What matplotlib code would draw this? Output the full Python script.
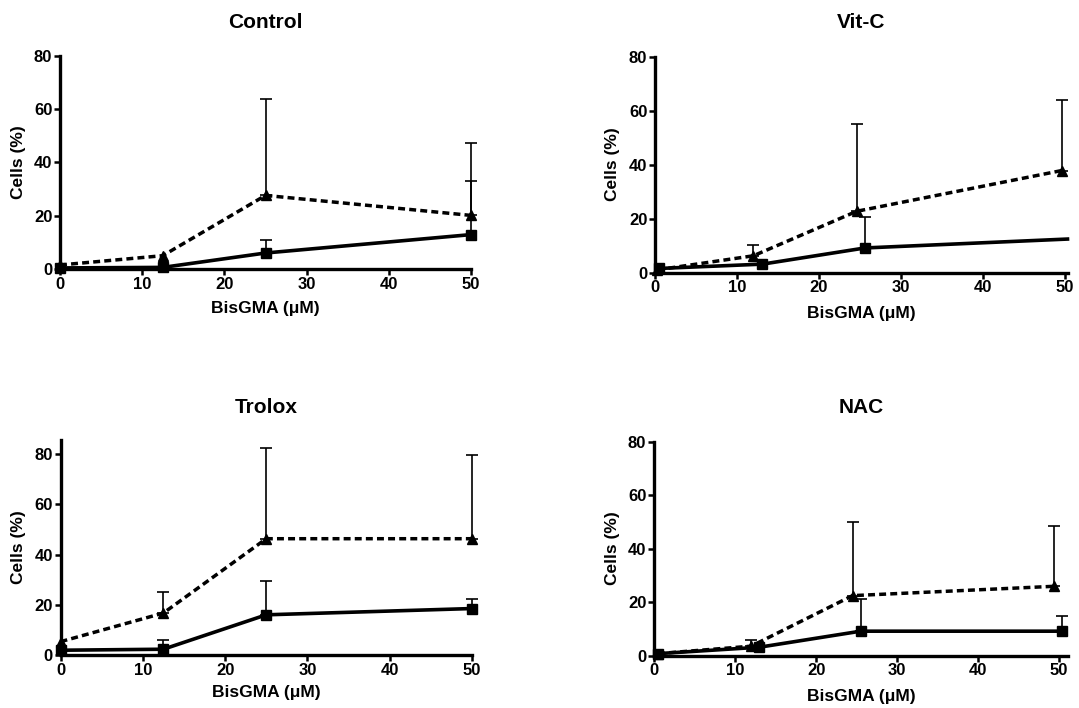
import numpy as np
import matplotlib
matplotlib.use("Agg")
import matplotlib.pyplot as plt

plt.rcParams['font.family'] = ['Liberation Sans', 'DejaVu Sans']
plt.rcParams['font.weight'] = 'bold'

W, H = 1079, 708

titles = ["Control", "Vit-C", "Trolox", "NAC"]
x_label = "BisGMA (\u03bcM)"
y_label = "Cells (%)"
x_ticks = [0, 10, 20, 30, 40, 50]
y_ticks = [0, 20, 40, 60, 80]

# Control
ctrl_tri_x = [0, 12.5, 25, 50]
ctrl_tri_y = [1.5, 5.0, 27.6, 20.1]
ctrl_tri_err = [0, 0, 36.2, 27.2]
ctrl_sq_x = [0, 12.5, 25, 50]
ctrl_sq_y = [0.4, 0.6, 6.0, 12.9]
ctrl_sq_err = [0, 0, 4.8, 20.2]

# Vit-C
vitc_tri_x = [0.3, 12.0, 24.6, 49.6]
vitc_tri_y = [1.0, 6.2, 22.7, 37.8]
vitc_tri_err = [0, 4.0, 32.5, 26.1]
vitc_sq_x = [0.5, 13.1, 25.6, 50.3]
vitc_sq_y = [1.5, 3.1, 9.1, 12.4]
vitc_sq_err = [0, 0, 11.4, 0]

# Trolox
trol_tri_x = [0, 12.5, 25, 50]
trol_tri_y = [5.3, 16.7, 46.3, 46.3]
trol_tri_err = [0, 8.4, 36.2, 33.2]
trol_sq_x = [0, 12.5, 25, 50]
trol_sq_y = [1.9, 2.3, 16.0, 18.5]
trol_sq_err = [0, 3.6, 13.3, 3.9]

# NAC
nac_tri_x = [0.5, 12.0, 24.5, 49.4]
nac_tri_y = [0.7, 3.5, 22.4, 25.9]
nac_tri_err = [0, 2.2, 27.5, 22.6]
nac_sq_x = [0.5, 13.0, 25.5, 50.4]
nac_sq_y = [0.7, 3.1, 9.1, 9.1]
nac_sq_err = [0, 0, 12.0, 5.6]

panels = [
    dict(tri=(ctrl_tri_x, ctrl_tri_y, ctrl_tri_err), sq=(ctrl_sq_x, ctrl_sq_y, ctrl_sq_err), sq_marks=[0, 1, 2, 3]),
    dict(tri=(vitc_tri_x, vitc_tri_y, vitc_tri_err), sq=(vitc_sq_x, vitc_sq_y, vitc_sq_err), sq_marks=[0, 1, 2]),
    dict(tri=(trol_tri_x, trol_tri_y, trol_tri_err), sq=(trol_sq_x, trol_sq_y, trol_sq_err), sq_marks=[0, 1, 2, 3]),
    dict(tri=(nac_tri_x, nac_tri_y, nac_tri_err), sq=(nac_sq_x, nac_sq_y, nac_sq_err), sq_marks=[0, 1, 2, 3]),
]

# layout in pixels: (x_px_lo, x_px_hi, xlim_hi, y_px_lo, y_px_hi, ylim_hi, title_y, ylabel_x, xlabel_y)
layout = [
    (60, 471, 50.0, 269, 55.7, 80.0, 22, 19, 309),
    (655, 1067.5, 50.3, 272.5, 56.7, 80.0, 23, 613, 313),
    (60.5, 472, 50.0, 655, 440, 85.6, 407, 19, 693),
    (654, 1067.7, 51.05, 655.5, 441.7, 80.0, 408, 613, 697),
]

fig = plt.figure(figsize=(W / 100, H / 100), dpi=100)

for i, (p, L) in enumerate(zip(panels, layout)):
    x0, x1, xhi, y0, y1, yhi, ty, ylx, xly = L
    ax = fig.add_axes([x0 / W, 1 - y0 / H, (x1 - x0) / W, (y0 - y1) / H])
    ax.set_xlim(0, xhi)
    ax.set_ylim(0, yhi)
    for s in ['top', 'right']:
        ax.spines[s].set_visible(False)
    for s in ['left', 'bottom']:
        ax.spines[s].set_linewidth(2.4)
    ax.set_xticks(x_ticks)
    ax.set_yticks(y_ticks)
    ax.tick_params(direction='out', length=4, width=1.8, labelsize=12, pad=1.5)
    for lab in ax.get_xticklabels() + ax.get_yticklabels():
        lab.set_fontweight('bold')

    def to_ax(px, py):
        return (px - x0) / (x1 - x0), (y0 - py) / (y0 - y1)

    # titles / labels
    tx, tyy = to_ax((x0 + x1) / 2, ty)
    ax.text(0.5, tyy, titles[i], transform=ax.transAxes, ha='center', va='center',
            fontsize=15, fontweight='bold')
    ax.set_xlabel(x_label, fontsize=12.5, fontweight='bold')
    ax.xaxis.set_label_coords(0.5, to_ax(0, xly)[1])
    ax.xaxis.label.set_va('center')
    ax.set_ylabel(y_label, fontsize=12.5, fontweight='bold')
    ax.yaxis.set_label_coords(to_ax(ylx, 0)[0], 0.5)
    ax.yaxis.label.set_va('center')

    # triangles dashed
    tx_, ty_, te_ = (np.array(a, dtype=float) for a in p['tri'])
    m = te_ > 0
    ax.errorbar(tx_[m], ty_[m], yerr=[np.zeros(m.sum()), te_[m]], fmt='none',
                ecolor='black', elinewidth=1.2, capsize=4.5, capthick=1.2, zorder=2, clip_on=False)
    ax.plot(tx_, ty_, color='black', lw=2.5, ls=(0, (2.0, 1.2)), marker='^', ms=7,
            zorder=3, clip_on=False)

    # squares solid
    sx_, sy_, se_ = (np.array(a, dtype=float) for a in p['sq'])
    m = se_ > 0
    ax.errorbar(sx_[m], sy_[m], yerr=[np.zeros(m.sum()), se_[m]], fmt='none',
                ecolor='black', elinewidth=1.2, capsize=4.5, capthick=1.2, zorder=2, clip_on=False)
    ax.plot(sx_, sy_, color='black', lw=2.6, ls='-', marker='s', ms=7.5,
            markevery=p['sq_marks'], zorder=4, clip_on=False)

fig.savefig("out.png", dpi=100)
